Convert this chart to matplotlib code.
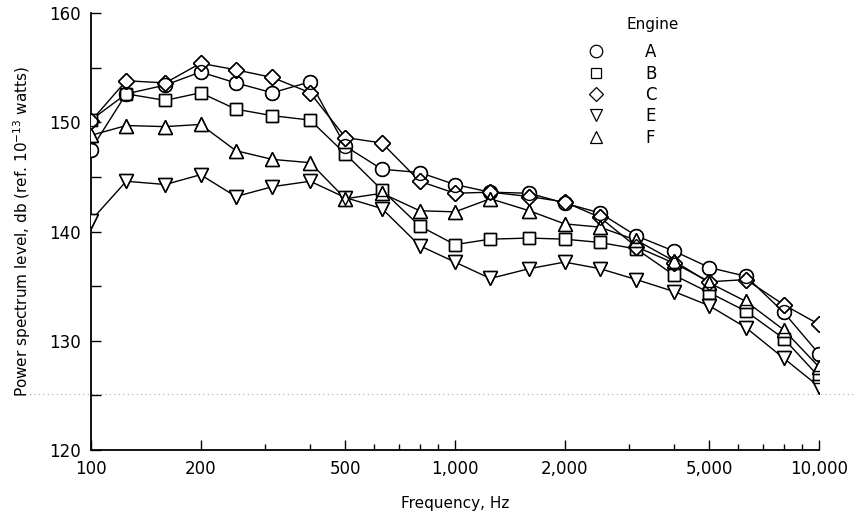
import matplotlib
matplotlib.use("Agg")
import matplotlib.pyplot as plt
from matplotlib.ticker import FixedLocator, NullFormatter, FuncFormatter
from matplotlib.lines import Line2D

freqs = [100, 125, 160, 200, 250, 315, 400, 500, 630, 800, 1000, 1250,
         1600, 2000, 2500, 3150, 4000, 5000, 6300, 8000, 10000]

engine_A = [147.5, 152.6, 153.4, 154.6, 153.6, 152.7, 153.7, 147.8, 145.7, 145.4, 144.3,
            143.6, 143.5, 142.6, 141.7, 139.6, 138.2, 136.7, 135.9, 132.6, 128.8]
engine_B = [150.2, 152.6, 152.0, 152.7, 151.2, 150.6, 150.2, 147.1, 143.8, 140.5, 138.8,
            139.3, 139.4, 139.3, 139.0, 138.4, 136.0, 134.4, 132.7, 130.2, 126.7]
engine_C = [150.1, 153.8, 153.6, 155.4, 154.8, 154.1, 152.7, 148.6, 148.1, 144.6, 143.5,
            143.6, 143.2, 142.7, 141.3, 138.6, 137.1, 135.4, 135.6, 133.3, 131.5]
engine_E = [141.0, 144.6, 144.3, 145.2, 143.2, 144.1, 144.6, 143.1, 142.1, 138.7, 137.2,
            135.7, 136.6, 137.2, 136.6, 135.6, 134.5, 133.2, 131.2, 128.4, 125.8]
engine_F = [148.8, 149.7, 149.6, 149.8, 147.4, 146.6, 146.3, 143.0, 143.5, 141.9, 141.8,
            143.0, 141.9, 140.7, 140.4, 139.2, 137.3, 135.3, 133.6, 131.0, 127.6]

labels = ["A", "B", "C", "E", "F"]
series = [engine_A, engine_B, engine_C, engine_E, engine_F]
markers = ["o", "s", "D", "v", "^"]
msizes = [10, 8.5, 8, 10, 10]

x_major = [100, 200, 500, 1000, 2000, 5000, 10000]
x_major_labels = ["100", "200", "500", "1,000", "2,000", "5,000", "10,000"]
x_minor = [300, 400, 600, 700, 800, 900, 3000, 4000, 6000, 7000, 8000, 9000]
y_major = [120, 130, 140, 150, 160]
y_minor = [125, 135, 145, 155]

fig = plt.figure(figsize=(8.55, 5.22), dpi=100)
ax = fig.add_axes([0.1064, 0.1379, 0.8515, 0.8372])

handles = []
for vals, mk, ms, lab in zip(series, markers, msizes, labels):
    ax.plot(freqs, vals, color="black", lw=1.0, zorder=2)
    ax.plot(freqs, vals, ls="none", marker=mk, ms=ms, mfc="white", mec="black",
            mew=1.0, zorder=3)
    ax.plot(freqs, vals, ls="none", marker=mk, ms=ms, mfc="none", mec="black",
            mew=1.0, zorder=4)
    handles.append(Line2D([], [], ls="none", marker=mk, ms=ms * 0.9, mfc="none",
                          mec="black", mew=0.9, label=lab))

ax.set_xscale("log")
ax.set_xlim(100, 10000)
ax.set_ylim(120, 160)

def fmt(v, p):
    iv = int(round(v))
    return x_major_labels[x_major.index(iv)] if iv in x_major else ""

ax.xaxis.set_major_locator(FixedLocator(x_major))
ax.xaxis.set_major_formatter(FuncFormatter(fmt))
ax.xaxis.set_minor_locator(FixedLocator(x_minor))
ax.xaxis.set_minor_formatter(NullFormatter())
ax.yaxis.set_major_locator(FixedLocator(y_major))
ax.yaxis.set_minor_locator(FixedLocator(y_minor))

for s in ["top", "right"]:
    ax.spines[s].set_visible(False)
for s in ["left", "bottom"]:
    ax.spines[s].set_linewidth(1.3)

ax.tick_params(which="major", direction="in", length=7, width=1.0, labelsize=12, pad=7)
ax.tick_params(axis="y", which="minor", direction="in", length=7, width=1.0)
ax.tick_params(axis="x", which="minor", direction="in", length=4, width=1.0)

ax.set_xlabel("Frequency, Hz", fontsize=11, labelpad=13)
ax.set_ylabel(r"Power spectrum level, db (ref. 10$^{-13}$ watts)", fontsize=11, labelpad=12)

# faint dotted line across the plot
ax.plot([-0.09, 1.05], [(125.1 - 120) / 40] * 2, transform=ax.transAxes, ls=(0, (1, 3)),
        color="#aaaaaa", lw=0.8, clip_on=False, zorder=1)

leg = ax.legend(handles=handles, loc="upper left", bbox_to_anchor=(0.6676, 0.946),
                frameon=False, fontsize=12, handletextpad=2.2, labelspacing=0.2,
                borderaxespad=0, handlelength=1.5)
ax.text(0.736, 0.973, "Engine", transform=ax.transAxes, fontsize=11, va="center", ha="left")

fig.savefig("out.png", dpi=100)
